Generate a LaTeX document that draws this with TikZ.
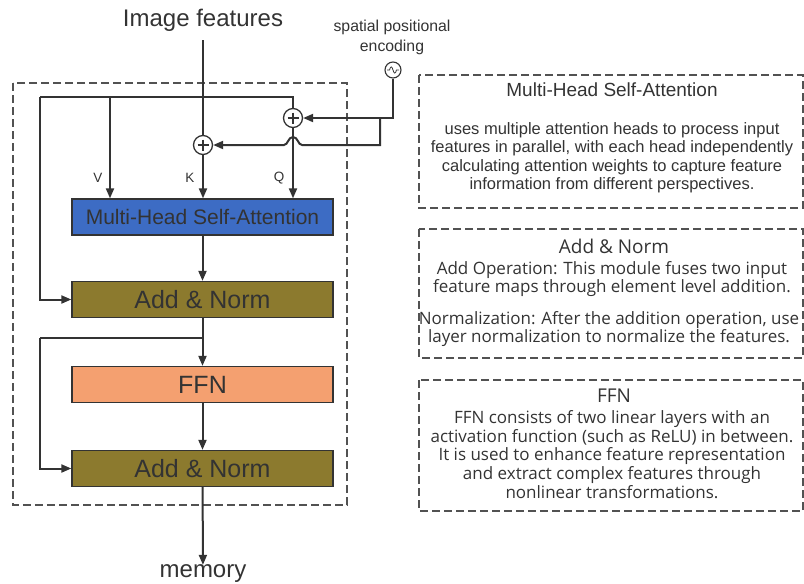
\documentclass[tikz,border=0pt]{standalone}
\usepackage{fontspec}
\setmainfont{Liberation Sans}
\newfontfamily\uifont{Open Sans}
\usetikzlibrary{arrows.meta}
\pgfdeclarelayer{edgelayer}
\pgfdeclarelayer{nodelayer}
\pgfsetlayers{edgelayer,nodelayer,main}
\definecolor{ink}{HTML}{333333}
\definecolor{mhsablue}{HTML}{3D6CC4}
\definecolor{normolive}{HTML}{8C7A2E}
\definecolor{ffnorange}{HTML}{F4A070}
\tikzset{font=\fontsize{13.5}{16}\selectfont, text=ink}
\tikzstyle{none}=[inner sep=0pt]
\tikzstyle{layer}=[draw=ink,line width=1.3pt,minimum width=261pt,minimum height=36pt,inner sep=0pt]
\tikzstyle{mhsa}=[layer,fill=mhsablue,font=\fontsize{21}{24}\selectfont]
\tikzstyle{addnorm}=[layer,fill=normolive,font=\fontsize{25}{28}\selectfont]
\tikzstyle{ffn}=[layer,fill=ffnorange,font=\fontsize{25}{28}\selectfont]
\tikzstyle{plus}=[circle,draw=ink,fill=white,line width=1.3pt,minimum size=19pt,inner sep=0pt,
  path picture={\draw[ink,line width=1.3pt]
    ([yshift=-4pt]path picture bounding box.north) -- ([yshift=4pt]path picture bounding box.south)
    ([xshift=4pt]path picture bounding box.west) -- ([xshift=-4pt]path picture bounding box.east);}]
\tikzstyle{wave}=[circle,draw=ink,fill=white,line width=1.1pt,minimum size=16pt,inner sep=0pt]
\tikzstyle{wire}=[draw=ink,line width=2pt]
\tikzstyle{arrow}=[wire,-{Triangle[length=10pt,width=8pt]}]
\tikzstyle{frame}=[draw=ink!85,line width=1.6pt,dash pattern=on 8pt off 4pt]
\tikzstyle{big}=[none,font=\fontsize{24}{28}\selectfont]
\tikzstyle{note}=[none,align=center,font=\fontsize{16.5}{18.5}\selectfont]
\tikzstyle{uinote}=[none,align=center,font=\uifont\fontsize{17}{18.5}\selectfont]

\begin{document}
\begin{tikzpicture}[x=1pt,y=-1pt]
	\useasboundingbox (0,0) rectangle (804,584);
	\begin{pgfonlayer}{nodelayer}
		\node [style=big] (0) at (203, 20) {Image features};
		\coordinate (1) at (203, 40);
		\node [style=plus] (2) at (203, 145) {};
		\node [style=plus] (3) at (293, 118) {};
		\node [style=mhsa] (4) at (202.5, 217) {Multi-Head Self-Attention};
		\node [style=addnorm] (5) at (202.5, 299.5) {Add \& Norm};
		\node [style=ffn] (6) at (202.5, 384.5) {FFN};
		\node [style=addnorm] (7) at (202.5, 468.5) {Add \& Norm};
		\node [style=big] (8) at (203, 574) {memory};
		\coordinate (9) at (40, 97);
		\coordinate (10) at (110, 97);
		\coordinate (11) at (293, 97);
		\coordinate (12) at (380, 118);
		\coordinate (13) at (203, 338);
		\coordinate (14) at (40, 338);
		\node [style=wave] (15) at (393, 70) {};
		\node [style=none, align=center, font=\fontsize{15.8}{20}\selectfont] (16) at (392, 37) {spatial positional\\encoding};
		\node [style=none] (17) at (98, 178) {V};
		\node [style=none] (18) at (190, 178) {K};
		\node [style=none] (19) at (279, 178) {Q};
		% notes on the right
		\node [style=none, font=\fontsize{19}{22}\selectfont] (20) at (612, 90) {Multi-Head Self-Attention};
		\node [style=note] (21) at (612, 157.5) {uses multiple attention heads to process input\\features in parallel, with each head independently\\calculating attention weights to capture feature\\information from different perspectives.};
		\node [style=uinote, font=\uifont\fontsize{19}{22}\selectfont] (22) at (614, 246) {Add \& Norm};
		\node [style=uinote] (23) at (612, 279) {Add Operation: This module fuses two input\\feature maps through element level addition.};
		\node [style=uinote] (24) at (609, 329) {Normalization: After the addition operation, use\\layer normalization to normalize the features.};
		\node [style=uinote, font=\uifont\fontsize{19}{22}\selectfont] (25) at (614, 396) {FFN};
		\node [style=uinote, font=\uifont\fontsize{17}{18.75}\selectfont] (26) at (612, 454.5) {FFN consists of two linear layers with an\\activation function (such as ReLU) in between.\\It is used to enhance feature representation\\and extract complex features through\\nonlinear transformations.};
	\end{pgfonlayer}
	\begin{pgfonlayer}{edgelayer}
		\draw [style=frame] (13, 83) rectangle (347, 505);
		\draw [style=frame] (419, 75) rectangle (803, 208);
		\draw [style=frame] (419, 229) rectangle (803, 358);
		\draw [style=frame] (419, 380) rectangle (803, 511);
		\draw [style=wire] (1) to (2);
		\draw [style=arrow] (2) to (4.north -| 2);
		\draw [style=wire] (9) to (11) to (3);
		\draw [style=arrow] (10) to (4.north -| 10);
		\draw [style=arrow] (3) to (4.north -| 3);
		\draw [style=arrow] (9) |- (5);
		\draw [style=arrow] (15) |- (3);
		\draw [style=arrow] (12) -- (12 |- 2) -- (302, 145) .. controls (298, 145) and (298, 137) .. (293, 137) .. controls (288, 137) and (288, 145) .. (284, 145) -- (2);
		\draw [style=arrow] (4) to (5);
		\draw [style=arrow] (5) to (6);
		\draw [style=wire] (13) to (14);
		\draw [style=arrow] (14) |- (7);
		\draw [style=arrow] (6) to (7);
		\draw [style=arrow] (7) to (8);
	\end{pgfonlayer}
	\draw [ink, line width=0.8pt] (387, 70) -- (389.5, 70) .. controls (390.5, 66) and (392, 66) .. (393, 70) .. controls (394, 74) and (395.5, 74) .. (396.5, 70) -- (399, 70);
\end{tikzpicture}
\end{document}
